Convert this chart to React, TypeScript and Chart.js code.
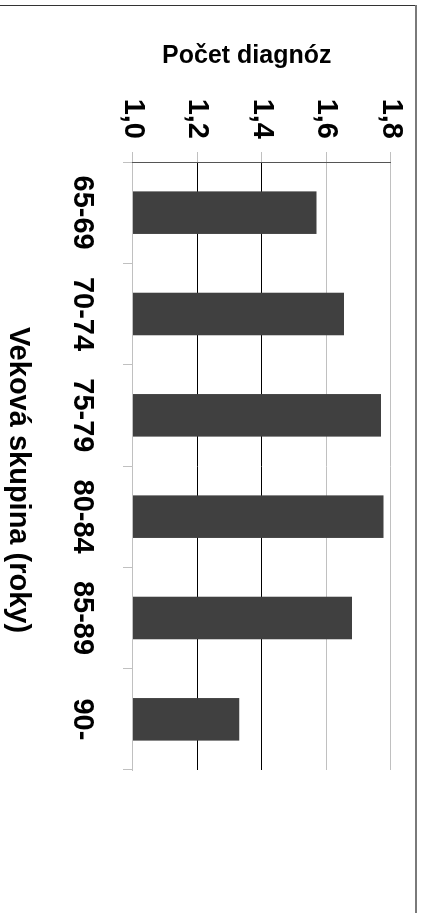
import React, { useEffect, useRef } from "react";
import { Chart, registerables } from "chart.js";

Chart.register(...registerables);

const categories: string[] = ["65-69", "70-74", "75-79", "80-84", "85-89", "90-"];
const values: number[] = [1.57, 1.655, 1.77, 1.778, 1.68, 1.33];
const valueMin = 1.0;
const valueMax = 1.8;
const valueStep = 0.2;
const valueTitle = "Počet diagnóz";
const categoryTitle = "Veková skupina (roky)";

const W = 913; // unrotated width (becomes page height)
const H = 421; // unrotated height (becomes page width)
const FONT = "'Liberation Sans', Arial, sans-serif";

const titlesPlugin = {
  id: "customTitles",
  afterDraw(chart: any) {
    const ctx = chart.ctx as CanvasRenderingContext2D;
    const ys = chart.scales.y;
    const xs = chart.scales.x;
    ctx.save();
    // frame lines
    ctx.strokeStyle = "#333333";
    ctx.lineWidth = 1;
    ctx.beginPath();
    ctx.moveTo(5.5, 5);
    ctx.lineTo(5.5, H);
    ctx.stroke();
    ctx.strokeStyle = "#7a7a7a";
    ctx.lineWidth = 2;
    ctx.beginPath();
    ctx.moveTo(5, 5);
    ctx.lineTo(W, 5);
    ctx.stroke();

    ctx.fillStyle = "#000";
    // value axis title (rotated)
    ctx.font = `bold 25px ${FONT}`;
    ctx.textAlign = "center";
    ctx.textBaseline = "alphabetic";
    ctx.translate(63, (ys.top + ys.bottom) / 2 + 15);
    ctx.rotate(-Math.PI / 2);
    ctx.fillText(valueTitle, 0, 0);
    ctx.restore();

    ctx.save();
    ctx.fillStyle = "#000";
    ctx.font = `bold 29px ${FONT}`;
    ctx.textAlign = "center";
    ctx.textBaseline = "alphabetic";
    ctx.fillText(categoryTitle, (xs.left + xs.right) / 2 + 14, xs.bottom - 10);
    ctx.restore();
  },
};

export default function App() {
  const canvasRef = useRef<HTMLCanvasElement | null>(null);

  useEffect(() => {
    const canvas = canvasRef.current;
    if (!canvas) return;
    const chart = new Chart(canvas, {
      type: "bar",
      data: {
        labels: categories,
        datasets: [
          {
            data: values,
            backgroundColor: "#404040",
            borderWidth: 0,
            barPercentage: 0.42,
            categoryPercentage: 1,
          },
        ],
      },
      options: {
        animation: false,
        responsive: false,
        devicePixelRatio: 1,
        layout: { padding: { left: 0, right: 143, top: 28, bottom: 0 } },
        plugins: {
          legend: { display: false },
          tooltip: { enabled: false },
          title: { display: false },
        },
        scales: {
          x: {
            type: "category",
            position: "bottom",
            offset: true,
            grid: {
              offset: true,
              drawOnChartArea: false,
              drawTicks: true,
              tickLength: 10,
              color: "#c0c0c0",
              tickColor: "#c0c0c0",
            },
            border: { display: true, color: "#c0c0c0", width: 1 },
            ticks: {
              color: "#000",
              font: { family: FONT, size: 29, weight: "bold" },
              padding: 24,
              maxRotation: 0,
              minRotation: 0,
              autoSkip: false,
            },
            afterFit(scale: any) {
              scale.height = 133;
            },
          },
          y: {
            type: "linear",
            position: "left",
            min: valueMin,
            max: valueMax,
            ticks: {
              stepSize: valueStep,
              color: "#000",
              font: { family: FONT, size: 29, weight: "bold" },
              padding: 13,
              callback: (v: any) => Number(v).toFixed(1).replace(".", ","),
            },
            grid: {
              drawTicks: true,
              tickLength: 10,
              tickColor: "#c0c0c0",
              color: (ctx: any) => {
                const v = ctx.tick ? Math.round(ctx.tick.value * 10) / 10 : 0;
                return v === 1.2 || v === 1.4 ? "#000000" : "#c0c0c0";
              },
            },
            border: { display: true, color: "#555555", width: 1 },
            afterFit(scale: any) {
              scale.width = 162;
            },
          },
        },
      },
      plugins: [titlesPlugin],
    } as any);
    return () => chart.destroy();
  }, []);

  return (
    <div
      style={{
        position: "fixed",
        left: 0,
        top: 0,
        width: 421,
        height: 913,
        overflow: "hidden",
        background: "#fff",
      }}
    >
      <div
        style={{
          position: "absolute",
          left: 0,
          top: 0,
          width: W,
          height: H,
          transformOrigin: "0 0",
          transform: `translateX(${H}px) rotate(90deg)`,
        }}
      >
        <canvas ref={canvasRef} width={W} height={H} style={{ width: W, height: H, display: "block" }} />
      </div>
    </div>
  );
}
